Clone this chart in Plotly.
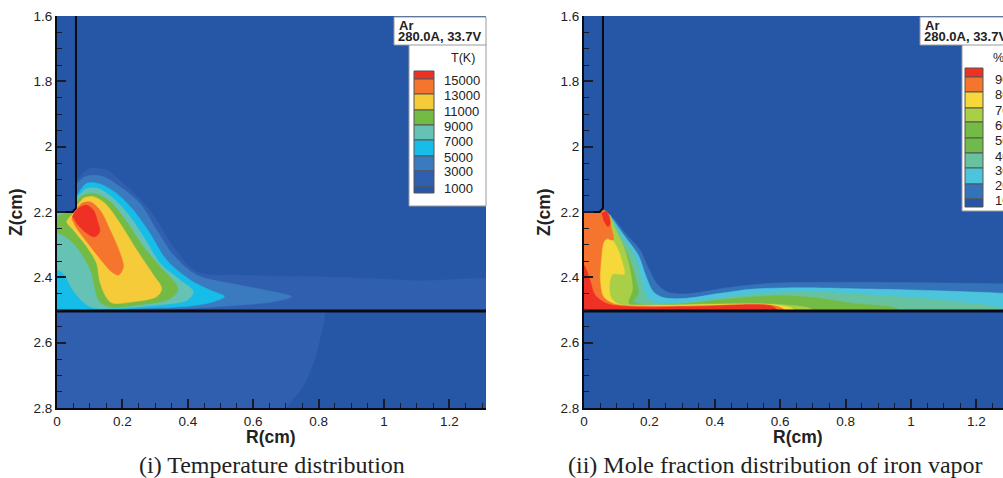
import plotly.graph_objects as go

W, H = 1003, 478

# ---------- Left panel: temperature contour boundaries (R cm, Z cm) ----------
T1000_R = [0.062, 0.101, 0.152, 0.203, 0.284, 0.356, 0.427, 0.56, 0.865, 1.1, 1.4, 1.4, -0.03, -0.03]
T1000_Z = [2.102, 2.066, 2.072, 2.112, 2.194, 2.306, 2.383, 2.393, 2.40, 2.41, 2.42, 2.52, 2.52, 2.15]
T3000_R = [0.062, 0.091, 0.142, 0.193, 0.254, 0.305, 0.356, 0.427, 0.56, 0.662, 0.718, 0.662, 0.56, 0.407, 0.1, -0.03, -0.03]
T3000_Z = [2.112, 2.09, 2.092, 2.123, 2.174, 2.255, 2.332, 2.393, 2.424, 2.444, 2.459, 2.475, 2.485, 2.495, 2.505, 2.52, 2.15]
T5000_R = [0.062, 0.091, 0.131, 0.182, 0.233, 0.284, 0.335, 0.407, 0.468, 0.512, 0.478, 0.407, 0.254, 0.05, -0.03, -0.03]
T5000_Z = [2.148, 2.112, 2.114, 2.143, 2.194, 2.265, 2.347, 2.408, 2.439, 2.459, 2.475, 2.488, 2.495, 2.505, 2.52, 2.17]
T7000_R = [0.065, 0.091, 0.126, 0.172, 0.223, 0.274, 0.315, 0.376, 0.417, 0.397, 0.305, 0.172, 0.101, 0.06, 0.04, 0.024, 0.004, -0.03, -0.03]
T7000_Z = [2.151, 2.128, 2.128, 2.158, 2.214, 2.291, 2.357, 2.408, 2.444, 2.47, 2.485, 2.495, 2.49, 2.454, 2.424, 2.393, 2.378, 2.37, 2.18]
T9000_R = [0.06, 0.075, 0.116, 0.162, 0.213, 0.264, 0.315, 0.366, 0.368, 0.335, 0.244, 0.167, 0.131, 0.116, 0.106, 0.081, 0.05, 0.019, 0.001, -0.03, -0.03, 0.0, 0.04]
T9000_Z = [2.168, 2.151, 2.143, 2.168, 2.23, 2.306, 2.367, 2.424, 2.444, 2.47, 2.485, 2.492, 2.475, 2.434, 2.388, 2.337, 2.296, 2.271, 2.265, 2.26, 2.215, 2.212, 2.2]
T11000_R = [0.06, 0.081, 0.111, 0.147, 0.193, 0.244, 0.295, 0.32, 0.305, 0.233, 0.167, 0.147, 0.131, 0.121, 0.091, 0.05, 0.03, 0.045]
T11000_Z = [2.184, 2.158, 2.153, 2.174, 2.235, 2.317, 2.393, 2.434, 2.459, 2.475, 2.478, 2.454, 2.413, 2.357, 2.306, 2.255, 2.23, 2.209]
T13000_R = [0.05, 0.075, 0.101, 0.131, 0.167, 0.193, 0.203, 0.188, 0.167, 0.131, 0.091, 0.06, 0.045]
T13000_Z = [2.204, 2.174, 2.169, 2.194, 2.265, 2.327, 2.368, 2.393, 2.383, 2.342, 2.291, 2.25, 2.22]
T15000_R = [0.047, 0.065, 0.091, 0.111, 0.126, 0.131, 0.116, 0.091, 0.06]
T15000_Z = [2.214, 2.189, 2.179, 2.194, 2.235, 2.26, 2.276, 2.265, 2.235]
# Faint level boundary in the anode (lower right)
ANODE_R = [0.70, 0.725, 0.75, 0.77, 0.79, 0.80, 0.81, 0.817, 0.822, 1.4, 1.4]
ANODE_Z = [2.80, 2.77, 2.74, 2.70, 2.65, 2.61, 2.57, 2.535, 2.503, 2.503, 2.80]

# ---------- Right panel: iron vapour contour boundaries (R cm, Z cm) ----------
F20_R = [0.064, 0.09, 0.13, 0.171, 0.197, 0.222, 0.253, 0.304, 0.365, 0.436, 0.569, 0.773, 0.977, 1.29, 1.4, 1.4, -0.03, -0.03, 0.04]
F20_Z = [2.196, 2.219, 2.27, 2.316, 2.372, 2.418, 2.444, 2.451, 2.444, 2.432, 2.418, 2.415, 2.416, 2.42, 2.422, 2.52, 2.52, 2.19, 2.19]
F30_R = [0.064, 0.085, 0.125, 0.166, 0.19, 0.212, 0.243, 0.314, 0.416, 0.518, 0.671, 0.875, 1.079, 1.29, 1.4, 1.4, -0.03, -0.03, 0.04]
F30_Z = [2.196, 2.219, 2.275, 2.332, 2.398, 2.444, 2.462, 2.464, 2.449, 2.436, 2.432, 2.436, 2.441, 2.449, 2.455, 2.52, 2.52, 2.19, 2.19]
F40_R = [0.064, 0.082, 0.115, 0.151, 0.173, 0.187, 0.207, 0.263, 0.365, 0.467, 0.671, 0.875, 1.079, 1.281, 1.3, 1.3, -0.03, -0.03, 0.04]
F40_Z = [2.196, 2.224, 2.275, 2.326, 2.398, 2.449, 2.474, 2.48, 2.471, 2.457, 2.444, 2.454, 2.469, 2.498, 2.52, 2.53, 2.53, 2.19, 2.19]
F60_R = [0.064, 0.08, 0.105, 0.136, 0.156, 0.166, 0.151, 0.181, 0.314, 0.416, 0.569, 0.691, 0.824, 0.961, 0.98, -0.03, -0.03, 0.04]
F60_Z = [2.196, 2.229, 2.275, 2.337, 2.398, 2.449, 2.474, 2.483, 2.48, 2.469, 2.457, 2.461, 2.48, 2.498, 2.53, 2.53, 2.19, 2.19]
F70_R = [0.08, 0.10, 0.125, 0.141, 0.148, 0.136, 0.141, 0.365, 0.518, 0.62, 0.696, 0.71, -0.03, -0.03, 0.05]
F70_Z = [2.209, 2.26, 2.316, 2.377, 2.439, 2.474, 2.485, 2.482, 2.48, 2.485, 2.498, 2.53, 2.53, 2.19, 2.19]
F80_R = [0.083, 0.10, 0.115, 0.123, 0.105, 0.088, 0.078, 0.082, 0.105, 0.15, 0.263, 0.467, 0.589, 0.64, 0.65, 0.03, 0.03]
F80_Z = [2.28, 2.306, 2.347, 2.39, 2.39, 2.39, 2.42, 2.46, 2.482, 2.485, 2.485, 2.483, 2.485, 2.498, 2.53, 2.53, 2.3]
F90_R = [-0.03, 0.059, 0.075, 0.083, 0.09, 0.08, 0.069, 0.059, 0.052, 0.049, 0.059, 0.09, 0.176, 0.365, 0.569, 0.61, 0.62, -0.03]
F90_Z = [2.19, 2.195, 2.205, 2.245, 2.285, 2.285, 2.28, 2.296, 2.347, 2.408, 2.459, 2.481, 2.488, 2.487, 2.485, 2.498, 2.53, 2.53]
F100_R = [-0.03, 0.0, 0.018, 0.034, 0.069, 0.141, 0.314, 0.569, 0.589, 0.6, -0.03]
F100_Z = [2.34, 2.362, 2.408, 2.454, 2.48, 2.49, 2.49, 2.487, 2.498, 2.53, 2.53]
F100B_R = [0.054, 0.069, 0.08, 0.074, 0.059]
F100B_Z = [2.204, 2.199, 2.234, 2.245, 2.224]

# Electrode geometry
CATHODE_R = [0.058, 0.058, 0.048, -0.03]
CATHODE_Z = [1.5, 2.188, 2.2, 2.2]
ANODE_LINE_R = [-0.03, 1.4]
ANODE_LINE_Z = [2.503, 2.503]
LOWER_R = [-0.03, 1.4, 1.4, -0.03]
LOWER_Z = [2.503, 2.503, 2.85, 2.85]
CATH_FILL_R = [-0.03, 0.058, 0.058, 0.048, -0.03]
CATH_FILL_Z = [1.5, 1.5, 2.188, 2.2, 2.2]

# Ticks and labels
R_TICKS = [0, 0.2, 0.4, 0.6, 0.8, 1.0, 1.2]
R_LABELS = ["0", "0.2", "0.4", "0.6", "0.8", "1", "1.2"]
Z_TICKS = [1.6, 1.8, 2.0, 2.2, 2.4, 2.6, 2.8]
Z_LABELS = ["1.6", "1.8", "2", "2.2", "2.4", "2.6", "2.8"]
T_LEVELS = ["15000", "13000", "11000", "9000", "7000", "5000", "3000", "1000"]
F_LEVELS = ["90", "80", "70", "60", "50", "40", "30", "20", "10"]

# Colours
BG = "#2656a6"
C1 = "#2f5fae"
C_T = ["#ee3124", "#f5752e", "#f6cb3a", "#74bb45", "#66c2b4", "#16bde9", "#3a7abf", "#2f5fae", "#2656a6"]
C_F = ["#ee3124", "#f5752e", "#f6d83a", "#a8cf45", "#74bb45", "#6fba4a", "#67c29f", "#4cc5dc", "#3473b9", "#2656a6"]
TXT = "#222222"

fig = go.Figure()


def band(R, Z, color, ax):
    fig.add_trace(go.Scatter(x=R, y=Z, xaxis=f"x{ax}", yaxis=f"y{ax}", mode="lines", fill="toself",
                             fillcolor=color, line=dict(color=color, width=0.5, shape="spline", smoothing=0.9),
                             hoverinfo="skip", showlegend=False))


def poly(R, Z, color, ax):
    fig.add_trace(go.Scatter(x=R, y=Z, xaxis=f"x{ax}", yaxis=f"y{ax}", mode="lines", fill="toself",
                             fillcolor=color, line=dict(color=color, width=0),
                             hoverinfo="skip", showlegend=False))


def line(R, Z, ax, w):
    fig.add_trace(go.Scatter(x=R, y=Z, xaxis=f"x{ax}", yaxis=f"y{ax}", mode="lines",
                             line=dict(color="#0a0a14", width=w), hoverinfo="skip", showlegend=False))


for R, Z, c in [(T1000_R, T1000_Z, C_T[7]), (T3000_R, T3000_Z, C_T[6]), (T5000_R, T5000_Z, C_T[5]),
                (T7000_R, T7000_Z, C_T[4]), (T9000_R, T9000_Z, C_T[3]), (T11000_R, T11000_Z, C_T[2]),
                (T13000_R, T13000_Z, C_T[1]), (T15000_R, T15000_Z, C_T[0])]:
    band(R, Z, c, "")
poly(LOWER_R, LOWER_Z, C1, "")
poly(ANODE_R, ANODE_Z, BG, "")
poly(CATH_FILL_R, CATH_FILL_Z, BG, "")
line(CATHODE_R, CATHODE_Z, "", 2)
line(ANODE_LINE_R, ANODE_LINE_Z, "", 3)

for R, Z, c in [(F20_R, F20_Z, C_F[8]), (F30_R, F30_Z, C_F[7]), (F40_R, F40_Z, C_F[6]),
                (F60_R, F60_Z, C_F[4]), (F70_R, F70_Z, C_F[3]), (F80_R, F80_Z, C_F[2]),
                (F90_R, F90_Z, C_F[1]), (F100_R, F100_Z, C_F[0]), (F100B_R, F100B_Z, C_F[0])]:
    band(R, Z, c, "2")
poly(LOWER_R, LOWER_Z, BG, "2")
poly(CATH_FILL_R, CATH_FILL_Z, BG, "2")
line(CATHODE_R, CATHODE_Z, "2", 2)
line(ANODE_LINE_R, ANODE_LINE_Z, "2", 3)


def xaxis(l, r, rng):
    return dict(domain=[l / W, r / W], range=rng, tickvals=R_TICKS, ticktext=R_LABELS, ticks="inside", ticklen=9,
                tickwidth=2, tickcolor="#1a1a2a", showline=True, linecolor="#0a0a14", linewidth=2, showgrid=False,
                zeroline=False, automargin=False, tickfont=dict(family="Liberation Sans", size=13.5, color=TXT),
                minor=dict(dtick=0.05, tick0=0, ticks="inside", ticklen=5, tickwidth=1, tickcolor="#1a1a2a"))


def yaxis(anchor):
    return dict(domain=[1 - 408 / H, 1 - 16 / H], range=[2.8, 1.6], anchor=anchor, tickvals=Z_TICKS, ticktext=Z_LABELS,
                ticks="inside", ticklen=9, tickwidth=2, tickcolor="#1a1a2a", showline=True, linecolor="#0a0a14",
                linewidth=2, showgrid=False, zeroline=False, automargin=False,
                tickfont=dict(family="Liberation Sans", size=13.5, color=TXT),
                minor=dict(dtick=0.05, tick0=1.6, ticks="inside", ticklen=5, tickwidth=1, tickcolor="#1a1a2a"))


def px(x):
    return x / W


def py(y):
    return 1 - y / H


shapes = []
annotations = []


def rect(x0, y0, x1, y1, fill, lc="#9a9a9a", lw=1):
    shapes.append(dict(type="rect", xref="paper", yref="paper", x0=px(x0), x1=px(x1), y0=py(y0), y1=py(y1),
                       fillcolor=fill, line=dict(color=lc, width=lw), layer="above"))


def text(x, y, s, size=12, anchor="left", bold=False, family="Liberation Sans", color=TXT, angle=0):
    annotations.append(dict(xref="paper", yref="paper", x=px(x), y=py(y), text=f"<b>{s}</b>" if bold else s,
                            showarrow=False, xanchor=anchor, yanchor="middle", textangle=angle,
                            font=dict(family=family, size=size, color=color)))


def legend(x1, box_x0, panel_x0, bottom, head_x, head, sw_x0, sw_x1, edges, colors, levels, label_x, label_ys):
    rect(panel_x0, 44, x1, bottom, "white")
    rect(box_x0, 17, x1, 45, "white")
    text(box_x0 + 3, 25, "Ar", 13, bold=True)
    text(box_x0 + 2, 37, "280.0A, 33.7V", 13, bold=True)
    text(head_x, 58, head, 12.5, "center")
    for i, c in enumerate(colors):
        rect(sw_x0, edges[i], sw_x1, edges[i + 1], c, "#555555", 1)
    for s, y in zip(levels, label_ys):
        text(label_x, y, s, 13)


T_EDGES = [71, 79, 94, 110, 125, 140, 156, 171, 187, 193]
T_LABEL_Y = [81, 96, 112, 126, 142, 157, 172, 188]
F_EDGES = [68, 77, 92, 108, 122, 138, 153, 168, 184, 199, 207]
F_LABEL_Y = [79, 94, 110, 125, 140, 156, 170, 185, 201]
legend(486, 394, 409, 206, 463, "T(K)", 414, 434, T_EDGES, C_T, T_LEVELS, 442, T_LABEL_Y)
legend(1040, 920, 962, 211, 998, "%", 965, 983, F_EDGES, C_F, F_LEVELS, 993, F_LABEL_Y)

text(271, 437, "R(cm)", 17.5, "center", bold=True)
text(798, 437, "R(cm)", 17.5, "center", bold=True)
text(16, 212, "Z(cm)", 17.5, "center", bold=True, angle=-90)
text(544, 212, "Z(cm)", 17.5, "center", bold=True, angle=-90)
text(272, 465, "(i) Temperature distribution", 24, "center", family="Liberation Serif")
text(775, 465, "(ii) Mole fraction distribution of iron vapor", 24, "center", family="Liberation Serif")

fig.update_layout(
    width=W, height=H, autosize=False, margin=dict(l=0, r=0, t=0, b=0), paper_bgcolor="white", plot_bgcolor=BG,
    xaxis=xaxis(57, 486, [0, 429 / 327]), yaxis=yaxis("x"),
    xaxis2=xaxis(584, 1003, [0, 419 / 327]), yaxis2=yaxis("x2"),
    shapes=shapes, annotations=annotations, showlegend=False,
)
fig.write_html("out.html", config=dict(displayModeBar=False),
               post_script="document.body.style.margin='0';document.documentElement.style.overflow='hidden';")
